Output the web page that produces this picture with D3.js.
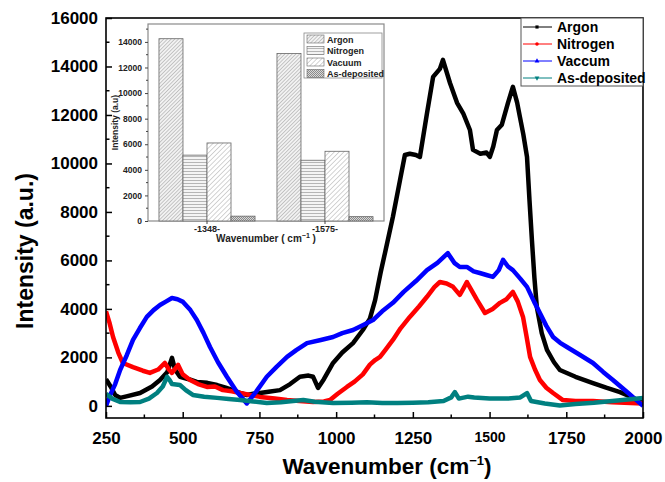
<!DOCTYPE html>
<html><head><meta charset="utf-8">
<script src="https://cdn.jsdelivr.net/npm/d3@7"></script>
<style>body{margin:0;background:#fff}svg{display:block}text{font-family:Arial,"Liberation Sans",sans-serif;font-weight:bold}</style>
</head><body><svg id="c" width="665" height="482"></svg>
<script>
// ---------- Main spectra data ----------
const seriesNames = ["Argon","Nitrogen","Vaccum","As-deposited"];
const seriesColors = ["#000000","#ff0000","#0000ff","#008080"];
const argonW = [250,265,280,296,320,361,400,426,450,465,475,491,520,546,580,612,640,664,690,709,730,752,780,817,850,882,910,925,941,960,990,1020,1055,1087,1110,1127,1145,1159,1185,1208,1224,1240,1260,1273,1296,1316,1338,1348,1371,1394,1414,1436,1446,1470,1490,1501,1512,1524,1540,1560,1576,1590,1599,1610,1622,1630,1638,1646,1654,1670,1687,1710,1729,1780,1837,1880,1925,1960,2000];
const argonV = [1100,800,450,330,400,530,800,1070,1400,1980,1500,1200,1100,990,950,860,750,650,520,450,500,530,580,650,900,1200,1250,1200,740,1100,1770,2200,2590,3130,3600,4360,5500,6300,7800,9300,10350,10400,10350,10270,12070,13570,13900,14270,13320,12500,12070,11380,10560,10400,10450,10270,10700,11380,11600,12500,13160,12500,11910,11200,10270,8500,6840,5300,4080,3000,2310,1800,1480,1200,940,750,570,380,120];
const nitrogenW = [250,262,273,290,305,338,370,393,420,442,455,465,485,500,524,550,579,605,631,660,687,720,752,800,840,880,925,960,980,1005,1035,1060,1087,1110,1127,1143,1160,1185,1210,1240,1270,1296,1320,1338,1360,1381,1403,1415,1426,1440,1459,1485,1510,1534,1555,1576,1592,1609,1620,1632,1648,1664,1685,1707,1739,1780,1837,1900,2000];
const nitrogenV = [3900,3400,2840,2200,1770,1600,1450,1360,1500,1770,1500,1360,1690,1300,1070,900,780,800,650,600,530,450,370,300,240,200,160,180,240,500,780,1000,1300,1700,1890,2020,2300,2720,3200,3670,4100,4500,4900,5110,5050,4910,4580,4850,5110,4800,4370,3830,4000,4250,4400,4700,4300,3670,2900,2020,1500,1070,750,530,240,200,200,150,100];
const vacuumW = [250,262,280,296,318,338,360,383,405,426,445,465,483,501,525,546,568,589,615,644,675,709,740,774,805,840,870,905,950,990,1020,1055,1090,1120,1150,1185,1220,1260,1296,1330,1364,1385,1403,1426,1448,1468,1490,1511,1530,1544,1560,1576,1600,1622,1645,1664,1685,1707,1730,1752,1795,1837,1870,1902,1950,2000];
const vacuumV = [0,400,900,1480,2100,2720,3200,3670,3950,4160,4300,4450,4400,4290,3950,3540,3000,2430,1800,1200,600,100,600,1200,1600,2020,2300,2590,2720,2840,3000,3130,3350,3540,3900,4250,4700,5150,5600,5900,6300,5900,5730,5730,5550,5480,5400,5320,5600,6020,5750,5600,5250,4910,4300,3830,3300,2840,2600,2430,2100,1770,1400,1070,550,0];
const asdepW = [250,270,296,330,361,390,416,435,449,458,465,491,510,533,570,612,650,687,730,774,820,860,893,930,990,1050,1100,1150,1200,1250,1300,1350,1375,1387,1400,1430,1450,1500,1560,1600,1622,1635,1680,1729,1780,1840,1900,1950,2000];
const asdepV = [500,300,160,150,160,300,530,800,1200,1050,900,860,650,450,380,330,280,240,180,120,150,200,240,170,120,130,150,120,120,130,150,200,350,570,300,380,350,300,300,350,530,200,100,20,80,130,200,260,330];
const xTicks = [250,500,750,1000,1250,1500,1750,2000];
const yTicks = [0,2000,4000,6000,8000,10000,12000,14000,16000];

// ---------- Inset bar data ----------
const insetGroups = ["-1348-","-1575-"];
const insetNames = ["Argon","Nitrogen","Vacuum","As-deposited"];
const inset1348 = [14250,5150,6100,380];
const inset1575 = [13100,4750,5450,340];
const insetYTicks = [0,2000,4000,6000,8000,10000,12000,14000];

const svg = d3.select("#c");
const L=106,R=643,T=18,B=418;
const x = d3.scaleLinear().domain([250,2000]).range([L,R]);
const y = d3.scaleLinear().domain([-500,16000]).range([B,T]);

// patterns
const defs = svg.append("defs");
function hatch(id, spacing, color, angle, width, bg){
  const p = defs.append("pattern").attr("id",id).attr("patternUnits","userSpaceOnUse")
    .attr("width",spacing).attr("height",spacing).attr("patternTransform","rotate("+angle+")");
  p.append("rect").attr("width",spacing).attr("height",spacing).attr("fill",bg);
  p.append("line").attr("x1",0).attr("y1",0).attr("x2",0).attr("y2",spacing).attr("stroke",color).attr("stroke-width",width);
}
hatch("pA",2.6,"#9a9a9a",45,1,"#f2f2f2");
hatch("pN",3,"#8a8a8a",90,1.2,"#f4f4f4");
hatch("pV",3.4,"#a8a8a8",45,1,"#ffffff");
(function(){
  const p = defs.append("pattern").attr("id","pD").attr("patternUnits","userSpaceOnUse").attr("width",2).attr("height",2);
  p.append("rect").attr("width",2).attr("height",2).attr("fill","#d8d8d8");
  p.append("rect").attr("width",1).attr("height",1).attr("fill","#8a8a8a");
  p.append("rect").attr("x",1).attr("y",1).attr("width",1).attr("height",1).attr("fill","#8a8a8a");
})();
const insetFills = ["url(#pA)","url(#pN)","url(#pV)","url(#pD)"];

// clip
defs.append("clipPath").attr("id","clip").append("rect").attr("x",L).attr("y",T).attr("width",R-L).attr("height",B-T);

// curves
const line = d3.line().x(d=>x(d[0])).y(d=>y(d[1]));
const allW=[argonW,nitrogenW,vacuumW,asdepW], allV=[argonV,nitrogenV,vacuumV,asdepV];
const gC = svg.append("g").attr("clip-path","url(#clip)");
[0,1,2,3].forEach(i=>{
  const pts = allW[i].map((w,j)=>[w,allV[i][j]]);
  gC.append("path").datum(pts).attr("d",line).attr("fill","none")
    .attr("stroke",seriesColors[i]).attr("stroke-width",4.5).attr("stroke-linejoin","round");
});

// frame
svg.append("rect").attr("x",L).attr("y",T).attr("width",R-L).attr("height",B-T).attr("fill","none").attr("stroke","#000").attr("stroke-width",1.6);

// x axis
const xAx = d3.axisBottom(x).tickValues(xTicks).tickSizeInner(-6).tickSizeOuter(0).tickPadding(14).tickFormat(d3.format("d"));
const gx = svg.append("g").attr("transform","translate(0,"+B+")").call(xAx);
gx.select(".domain").remove();
gx.selectAll("line").attr("stroke-width",1.5);
gx.selectAll("text").attr("font-size",d=>d===1500?"14px":"17px").attr("fill","#000");
const xMinor = d3.range(375,2000,250);
svg.append("g").selectAll("line").data(xMinor).join("line").attr("x1",d=>x(d)).attr("x2",d=>x(d)).attr("y1",B).attr("y2",B-3.5).attr("stroke","#000").attr("stroke-width",1.5);

// y axis
const yAx = d3.axisLeft(y).tickValues(yTicks).tickSizeInner(-6).tickSizeOuter(0).tickPadding(8).tickFormat(d3.format("d"));
const gy = svg.append("g").attr("transform","translate("+L+",0)").call(yAx);
gy.select(".domain").remove();
gy.selectAll("line").attr("stroke-width",1.5);
gy.selectAll("text").attr("font-size","17px").attr("fill","#000");
const yMinor = d3.range(1000,16000,2000);
svg.append("g").selectAll("line").data(yMinor).join("line").attr("x1",L).attr("x2",L+3.5).attr("y1",d=>y(d)).attr("y2",d=>y(d)).attr("stroke","#000").attr("stroke-width",1.5);

// axis titles
svg.append("text").attr("transform","translate(33,251) rotate(-90)").attr("text-anchor","middle").attr("font-size","23px").text("Intensity (a.u.)");
const xt = svg.append("text").attr("x",387).attr("y",474).attr("text-anchor","middle").attr("font-size","22.5px");
xt.append("tspan").text("Wavenumber  (cm");
xt.append("tspan").attr("dy",-9).attr("font-size","13px").text("−1");
xt.append("tspan").attr("dy",9).text(")");

// main legend
const lg = svg.append("g");
lg.append("rect").attr("x",521).attr("y",T).attr("width",R-521).attr("height",68).attr("fill","#fff").attr("stroke","#555").attr("stroke-width",1);
const lgY = [27,44,61,78];
const symbols = [d3.symbolSquare,d3.symbolCircle,d3.symbolTriangle,d3.symbolTriangle];
seriesNames.forEach((n,i)=>{
  lg.append("line").attr("x1",523).attr("x2",552).attr("y1",lgY[i]).attr("y2",lgY[i]).attr("stroke",seriesColors[i]).attr("stroke-width",1);
  lg.append("path").attr("d",d3.symbol().type(symbols[i]).size(10)).attr("fill",seriesColors[i])
    .attr("transform","translate(537,"+lgY[i]+")"+(i===3?" rotate(180)":""));
  lg.append("text").attr("x",557).attr("y",lgY[i]+5).attr("font-size","14px").text(n);
});

// ---------- Inset ----------
const iL=148,iR=384,iT=24,iB=221;
const ix = d3.scaleBand().domain(insetGroups).range([iL,iR]).paddingInner(0.186).paddingOuter(0.093);
const ixs = d3.scaleBand().domain(insetNames).range([0,ix.bandwidth()]);
const iy = d3.scaleLinear().domain([0,15400]).range([iB,iT]);
const ins = svg.append("g");
ins.append("rect").attr("x",iL).attr("y",iT).attr("width",iR-iL).attr("height",iB-iT).attr("fill","#fff").attr("stroke","#8a8a8a").attr("stroke-width",1.2);
const groupVals = [inset1348, inset1575];
insetGroups.forEach((g,gi)=>{
  insetNames.forEach((n,k)=>{
    ins.append("rect").attr("x",ix(g)+ixs(n)).attr("y",iy(groupVals[gi][k])).attr("width",ixs.bandwidth())
      .attr("height",iB-iy(groupVals[gi][k])).attr("fill",insetFills[k]).attr("stroke","#666").attr("stroke-width",0.8);
  });
});
const iyAx = d3.axisLeft(iy).tickValues(insetYTicks).tickSize(3).tickPadding(3).tickFormat(d3.format("d"));
const giy = ins.append("g").attr("transform","translate("+iL+",0)").call(iyAx);
giy.select(".domain").remove();
giy.selectAll("line").attr("stroke","#444");
giy.selectAll("text").attr("font-size","8.5px").attr("fill","#222");
ins.append("g").selectAll("line").data(d3.range(1000,15400,2000)).join("line")
  .attr("x1",iL-2).attr("x2",iL).attr("y1",d=>iy(d)).attr("y2",d=>iy(d)).attr("stroke","#444");
const ixAx = d3.axisBottom(ix).tickSize(3).tickPadding(2);
const gix = ins.append("g").attr("transform","translate(0,"+iB+")").call(ixAx);
gix.select(".domain").remove();
gix.selectAll("line").attr("stroke","#444");
gix.selectAll("text").attr("font-size","9px").attr("fill","#222");
ins.append("text").attr("transform","translate(118,"+((iT+iB)/2)+") rotate(-90)").attr("text-anchor","middle").attr("font-size","8.5px").attr("fill","#222").text("Intensity (a.u)");
const ixt = ins.append("text").attr("x",(iL+iR)/2).attr("y",242).attr("text-anchor","middle").attr("font-size","10px").attr("fill","#222");
ixt.append("tspan").text("Wavenumber ( cm");
ixt.append("tspan").attr("dy",-4).attr("font-size","7px").text("−1");
ixt.append("tspan").attr("dy",4).text(" )");
// inset legend
const il = ins.append("g");
il.append("rect").attr("x",304).attr("y",33).attr("width",78).attr("height",45).attr("fill","#fff").attr("stroke","#888").attr("stroke-width",0.8);
const ilY=[39,50.5,62,73.5];
insetNames.forEach((n,k)=>{
  il.append("rect").attr("x",307).attr("y",ilY[k]-4).attr("width",17).attr("height",8).attr("fill",insetFills[k]).attr("stroke","#666").attr("stroke-width",0.6);
  il.append("text").attr("x",327).attr("y",ilY[k]+3.5).attr("font-size","9px").attr("fill","#222").text(n);
});
</script></body></html>
